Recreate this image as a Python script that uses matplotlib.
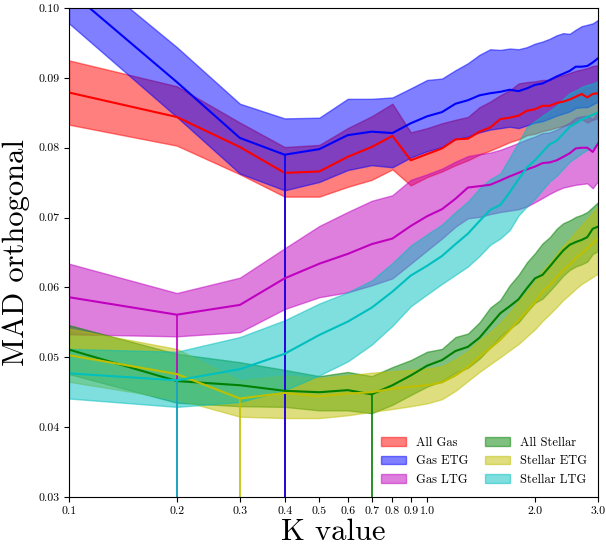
import numpy as np
import matplotlib
matplotlib.use("Agg")
import matplotlib.pyplot as plt
from matplotlib.ticker import NullLocator

plt.rcParams['font.family'] = 'serif'
plt.rcParams['font.serif'] = ['cmr10', 'DejaVu Serif']
plt.rcParams['mathtext.fontset'] = 'cm'
plt.rcParams['axes.formatter.use_mathtext'] = True

# K values
k = [0.1, 0.2, 0.3, 0.4, 0.5, 0.6, 0.7, 0.8, 0.9, 1.0,
     1.1, 1.2, 1.3, 1.4, 1.5, 1.6, 1.7, 1.8, 1.9, 2.0,
     2.1, 2.2, 2.3, 2.4, 2.5, 2.6, 2.7, 2.8, 2.9, 3.0]

# All Gas
gas_mid = [0.0879, 0.0844, 0.0801, 0.0764, 0.0766, 0.0787, 0.0801, 0.0817, 0.0782, 0.0791,
           0.0799, 0.0812, 0.0813, 0.0823, 0.0829, 0.0841, 0.0843, 0.0846, 0.0853, 0.0855,
           0.0860, 0.0860, 0.0864, 0.0866, 0.0869, 0.0873, 0.0877, 0.0872, 0.0877, 0.0878]
gas_hi = [0.0925, 0.0888, 0.0836, 0.0801, 0.0804, 0.0828, 0.0845, 0.0863, 0.0822, 0.0828,
          0.0835, 0.0840, 0.0844, 0.0858, 0.0866, 0.0875, 0.0882, 0.0892, 0.0894, 0.0895,
          0.0897, 0.0897, 0.0902, 0.0904, 0.0907, 0.0910, 0.0912, 0.0914, 0.0917, 0.0918]
gas_lo = [0.0833, 0.0803, 0.0762, 0.0730, 0.0730, 0.0744, 0.0754, 0.0769, 0.0746, 0.0758,
          0.0766, 0.0775, 0.0782, 0.0790, 0.0796, 0.0802, 0.0808, 0.0812, 0.0818, 0.0820,
          0.0824, 0.0826, 0.0829, 0.0831, 0.0834, 0.0837, 0.0841, 0.0836, 0.0840, 0.0842]

# Gas ETG
getg_mid = [0.1025, 0.0894, 0.0814, 0.0790, 0.0798, 0.0818, 0.0823, 0.0821, 0.0835, 0.0845,
            0.0851, 0.0863, 0.0868, 0.0875, 0.0878, 0.0880, 0.0883, 0.0881, 0.0885, 0.0890,
            0.0892, 0.0897, 0.0902, 0.0906, 0.0910, 0.0916, 0.0916, 0.0917, 0.0922, 0.0928]
getg_hi = [0.1071, 0.0944, 0.0863, 0.0842, 0.0843, 0.0870, 0.0870, 0.0872, 0.0885, 0.0897,
           0.0899, 0.0911, 0.0921, 0.0933, 0.0941, 0.0940, 0.0942, 0.0941, 0.0944, 0.0949,
           0.0952, 0.0956, 0.0961, 0.0964, 0.0963, 0.0969, 0.0974, 0.0976, 0.0978, 0.0983]
getg_lo = [0.0978, 0.0844, 0.0763, 0.0739, 0.0751, 0.0768, 0.0775, 0.0772, 0.0786, 0.0795,
           0.0801, 0.0812, 0.0816, 0.0822, 0.0826, 0.0828, 0.0830, 0.0828, 0.0832, 0.0836,
           0.0838, 0.0842, 0.0846, 0.0849, 0.0852, 0.0857, 0.0858, 0.0858, 0.0862, 0.0866]

# Gas LTG
gltg_mid = [0.0586, 0.0561, 0.0575, 0.0613, 0.0634, 0.0648, 0.0662, 0.0670, 0.0688, 0.0702,
            0.0712, 0.0727, 0.0743, 0.0745, 0.0747, 0.0753, 0.0759, 0.0764, 0.0769, 0.0773,
            0.0778, 0.0779, 0.0782, 0.0787, 0.0792, 0.0799, 0.0800, 0.0800, 0.0794, 0.0806]
gltg_hi = [0.0634, 0.0592, 0.0614, 0.0656, 0.0688, 0.0708, 0.0724, 0.0732, 0.0754, 0.0762,
           0.0770, 0.0780, 0.0788, 0.0791, 0.0793, 0.0797, 0.0802, 0.0807, 0.0812, 0.0816,
           0.0821, 0.0822, 0.0826, 0.0831, 0.0836, 0.0843, 0.0845, 0.0846, 0.0841, 0.0852]
gltg_lo = [0.0533, 0.0530, 0.0536, 0.0569, 0.0586, 0.0593, 0.0603, 0.0613, 0.0634, 0.0653,
           0.0670, 0.0687, 0.0699, 0.0701, 0.0705, 0.0708, 0.0710, 0.0712, 0.0716, 0.0722,
           0.0728, 0.0734, 0.0739, 0.0743, 0.0745, 0.0747, 0.0748, 0.0749, 0.0742, 0.0752]

# All Stellar
star_mid = [0.0511, 0.0466, 0.0460, 0.0452, 0.0450, 0.0453, 0.0447, 0.0460, 0.0474, 0.0488,
            0.0496, 0.0509, 0.0515, 0.0528, 0.0546, 0.0563, 0.0573, 0.0583, 0.0599, 0.0613,
            0.0618, 0.0630, 0.0642, 0.0653, 0.0661, 0.0665, 0.0668, 0.0672, 0.0684, 0.0687]
star_hi = [0.0546, 0.0505, 0.0493, 0.0482, 0.0473, 0.0479, 0.0473, 0.0486, 0.0496, 0.0508,
           0.0512, 0.0529, 0.0534, 0.0550, 0.0571, 0.0582, 0.0603, 0.0618, 0.0636, 0.0649,
           0.0663, 0.0672, 0.0684, 0.0692, 0.0696, 0.0701, 0.0704, 0.0708, 0.0715, 0.0722]
star_lo = [0.0476, 0.0435, 0.0430, 0.0429, 0.0424, 0.0424, 0.0420, 0.0432, 0.0446, 0.0458,
           0.0466, 0.0478, 0.0485, 0.0498, 0.0514, 0.0530, 0.0541, 0.0550, 0.0565, 0.0578,
           0.0584, 0.0595, 0.0606, 0.0617, 0.0625, 0.0630, 0.0633, 0.0637, 0.0648, 0.0652]

# Stellar ETG
setg_mid = [0.0503, 0.0476, 0.0441, 0.0449, 0.0444, 0.0448, 0.0450, 0.0455, 0.0458, 0.0460,
            0.0464, 0.0474, 0.0486, 0.0501, 0.0513, 0.0525, 0.0539, 0.0553, 0.0566, 0.0579,
            0.0594, 0.0603, 0.0615, 0.0625, 0.0632, 0.0642, 0.0649, 0.0656, 0.0663, 0.0670]
setg_hi = [0.0541, 0.0512, 0.0467, 0.0474, 0.0470, 0.0474, 0.0478, 0.0480, 0.0482, 0.0484,
           0.0487, 0.0497, 0.0509, 0.0524, 0.0536, 0.0549, 0.0564, 0.0580, 0.0594, 0.0608,
           0.0624, 0.0635, 0.0648, 0.0660, 0.0669, 0.0680, 0.0689, 0.0698, 0.0707, 0.0716]
setg_lo = [0.0465, 0.0440, 0.0415, 0.0413, 0.0413, 0.0417, 0.0422, 0.0426, 0.0430, 0.0434,
           0.0440, 0.0452, 0.0466, 0.0479, 0.0490, 0.0500, 0.0510, 0.0519, 0.0530, 0.0540,
           0.0552, 0.0562, 0.0572, 0.0582, 0.0590, 0.0598, 0.0605, 0.0610, 0.0615, 0.0620]

# Stellar LTG
sltg_mid = [0.0477, 0.0467, 0.0483, 0.0505, 0.0532, 0.0551, 0.0571, 0.0594, 0.0617, 0.0631,
            0.0645, 0.0662, 0.0677, 0.0695, 0.0711, 0.0718, 0.0736, 0.0755, 0.0772, 0.0782,
            0.0794, 0.0805, 0.0810, 0.0820, 0.0830, 0.0835, 0.0840, 0.0844, 0.0847, 0.0851]
sltg_hi = [0.0512, 0.0508, 0.0529, 0.0553, 0.0577, 0.0593, 0.0610, 0.0635, 0.0660, 0.0676,
           0.0690, 0.0708, 0.0723, 0.0742, 0.0755, 0.0763, 0.0786, 0.0808, 0.0830, 0.0838,
           0.0846, 0.0853, 0.0860, 0.0870, 0.0878, 0.0882, 0.0887, 0.0890, 0.0892, 0.0895]
sltg_lo = [0.0441, 0.0429, 0.0436, 0.0453, 0.0474, 0.0494, 0.0518, 0.0545, 0.0573, 0.0590,
           0.0605, 0.0618, 0.0630, 0.0645, 0.0661, 0.0670, 0.0682, 0.0703, 0.0716, 0.0727,
           0.0740, 0.0752, 0.0760, 0.0770, 0.0780, 0.0786, 0.0792, 0.0797, 0.0800, 0.0805]

labels = ['All Gas', 'Gas ETG', 'Gas LTG', 'All Stellar', 'Stellar ETG', 'Stellar LTG']
colors = ['r', 'b', 'm', 'g', 'y', 'c']
series = [(gas_mid, gas_lo, gas_hi), (getg_mid, getg_lo, getg_hi), (gltg_mid, gltg_lo, gltg_hi),
          (star_mid, star_lo, star_hi), (setg_mid, setg_lo, setg_hi), (sltg_mid, sltg_lo, sltg_hi)]

xticks = [0.1, 0.2, 0.3, 0.4, 0.5, 0.6, 0.7, 0.8, 0.9, 1.0, 2.0, 3.0]
yticks = [0.03, 0.04, 0.05, 0.06, 0.07, 0.08, 0.09, 0.10]

fig = plt.figure(figsize=(6.06, 5.49), dpi=100)
ax = fig.add_axes([0.1139, 0.0947, 0.8729, 0.8907])

for (mid, lo, hi), c, lab in zip(series, colors, labels):
    ax.fill_between(k, lo, hi, color=c, alpha=0.5, label=lab)
    ax.plot(k, mid, color=c, lw=1.5)
    # mark the K with the smallest MAD
    i = int(np.argmin(mid))
    ax.vlines(k[i], 0, mid[i], color=c, lw=1.2)

ax.set_xscale('log')
ax.set_xlim(0.1, 3.0)
ax.set_ylim(0.03, 0.10)
ax.set_xticks(xticks)
ax.set_xticklabels(['%.1f' % t for t in xticks])
ax.xaxis.set_minor_locator(NullLocator())
ax.set_yticks(yticks)
ax.set_yticklabels(['%.2f' % t for t in yticks])
ax.tick_params(labelsize=8.5)

ax.set_xlabel('K value', fontsize=22, labelpad=2)
ax.set_ylabel('MAD orthogonal', fontsize=22, labelpad=6)

ax.legend(loc='lower right', ncol=2, frameon=False, fontsize=9, columnspacing=1.3)

fig.savefig('out.png', dpi=100)
